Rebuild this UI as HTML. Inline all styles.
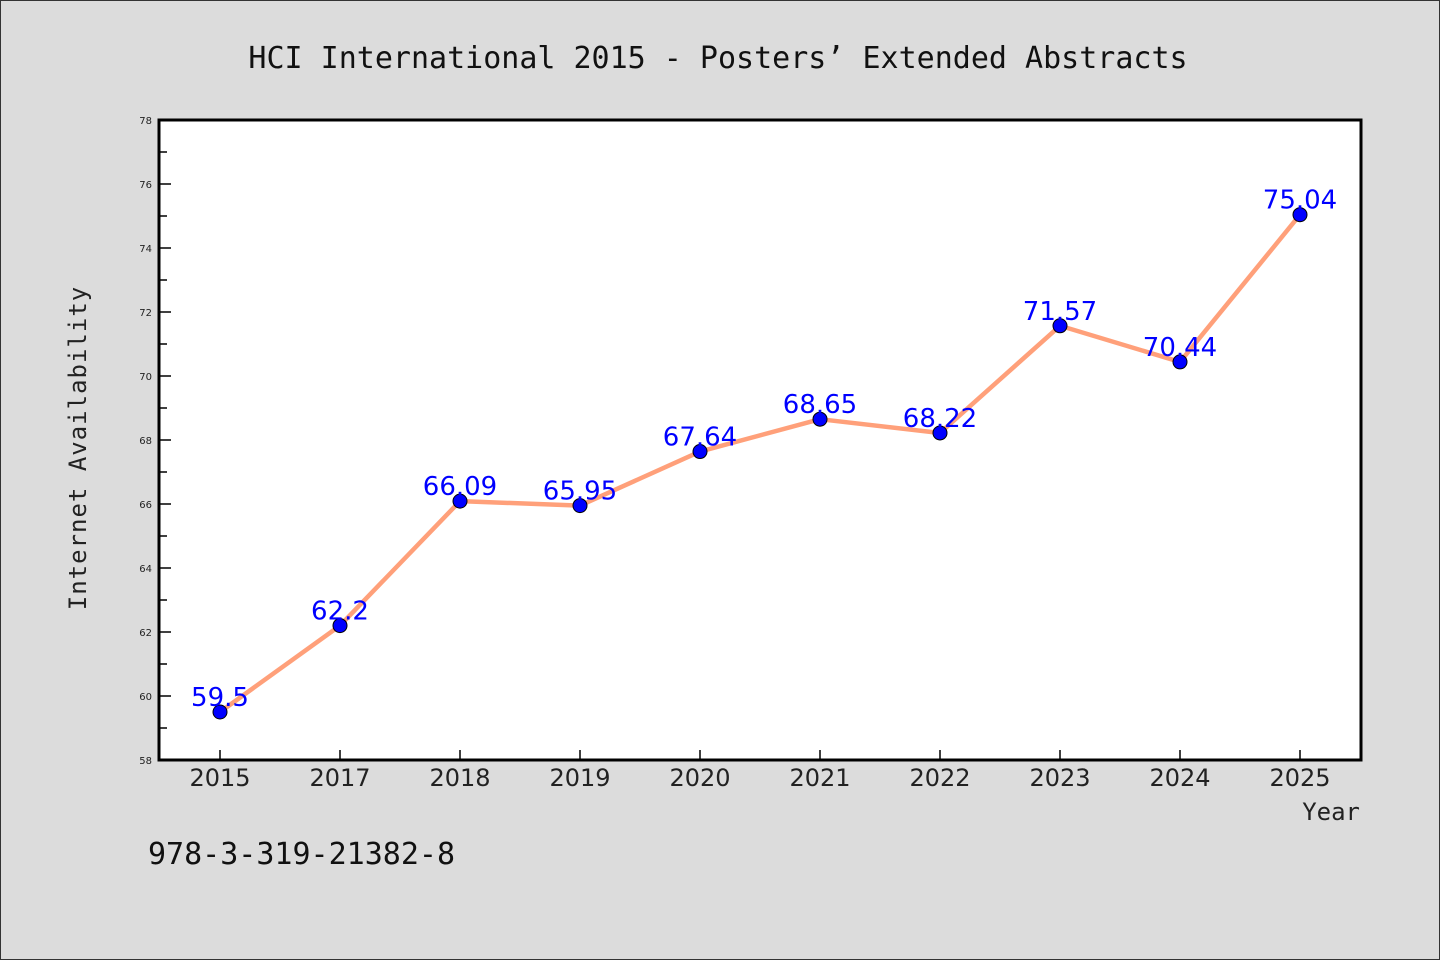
<!DOCTYPE html>
<html><head><meta charset="utf-8"><style>
body{margin:0;background:#dcdcdc}
svg{display:block}
</style></head><body>
<svg width="1440" height="960" xmlns="http://www.w3.org/2000/svg">
<rect x="0.5" y="0.5" width="1439" height="959" fill="#dcdcdc" stroke="#333"/>
<text x="718" y="68" text-anchor="middle" font-family="'DejaVu Sans Mono','Liberation Mono',monospace" font-size="30" fill="#111">HCI International 2015 - Posters’ Extended Abstracts</text>
<rect x="159" y="120" width="1202" height="640" fill="#fff"/>
<g id="axes"></g>
<g id="marks"></g>
<rect x="159" y="120" width="1202" height="640" fill="none" stroke="#000" stroke-width="3"/>
<text x="86" y="448" transform="rotate(-90 86 448)" text-anchor="middle" font-family="'DejaVu Sans Mono','Liberation Mono',monospace" font-size="24" fill="#222" letter-spacing="1">Internet Availability</text>
<text x="1360" y="820" text-anchor="end" font-family="'DejaVu Sans Mono','Liberation Mono',monospace" font-size="24" fill="#222">Year</text>
<text x="148" y="864" font-family="'DejaVu Sans Mono','Liberation Mono',monospace" font-size="30" fill="#111">978-3-319-21382-8</text>
</svg>
<script>
const categories=["2015","2017","2018","2019","2020","2021","2022","2023","2024","2025"];
const values=[59.5,62.2,66.09,65.95,67.64,68.65,68.22,71.57,70.44,75.04];
const valueLabels=["59.5","62.2","66.09","65.95","67.64","68.65","68.22","71.57","70.44","75.04"];
const yTicks=[58,60,62,64,66,68,70,72,74,76,78];
const yMin=58,yMax=78,plotTop=120,plotBottom=760,plotLeft=159;
const NS="http://www.w3.org/2000/svg";
const yS=v=>plotBottom-(v-yMin)/(yMax-yMin)*(plotBottom-plotTop);
const xS=i=>220+i*120;
function mk(tag,attrs,parent){const e=document.createElementNS(NS,tag);for(const k in attrs)e.setAttribute(k,attrs[k]);parent.appendChild(e);return e;}
const ax=document.getElementById('axes'),mg=document.getElementById('marks');
yTicks.forEach((t,i)=>{
  const y=yS(t);
  const tk=mk('line',{x1:plotLeft,x2:plotLeft+12,y1:y,y2:y,stroke:'#000','stroke-width':1.5},ax);
  
  
  if(i<yTicks.length-1){const ym=yS(t+1);const m=mk('line',{x1:plotLeft,x2:plotLeft+8,y1:ym,y2:ym,stroke:'#000','stroke-width':1.5},ax);
  
  }
  const lb=mk('text',{x:152,y:y+4,'text-anchor':'end','font-family':'DejaVu Sans,sans-serif','font-size':10,fill:'#222'},ax);
  lb.textContent=t;
  
  
});
categories.forEach((c,i)=>{
  const x=xS(i);
  const tk=mk('line',{x1:x,x2:x,y1:plotBottom,y2:plotBottom-10,stroke:'#000','stroke-width':1.5},ax);
  
  
  const lb=mk('text',{x:x,y:786,'text-anchor':'middle','font-family':'DejaVu Sans,sans-serif','font-size':24,fill:'#222'},ax);
  lb.textContent=c;
  
  
});
const pts=values.map((v,i)=>xS(i)+','+yS(v)).join(' ');
const pl=mk('polyline',{points:pts,fill:'none',stroke:'#ffa07a','stroke-width':4.5,'stroke-linejoin':'round'},mg);


values.forEach((v,i)=>{
  const c=mk('circle',{cx:xS(i),cy:yS(v),r:7,fill:'#0000ff',stroke:'#000','stroke-width':1},mg);
  
  
});
values.forEach((v,i)=>{
  const t=mk('text',{x:xS(i),y:yS(v)-6,'text-anchor':'middle','font-family':'DejaVu Sans,sans-serif','font-size':26,fill:'#0000ff'},mg);
  t.textContent=valueLabels[i];
  
  
});
</script>
</body></html>
